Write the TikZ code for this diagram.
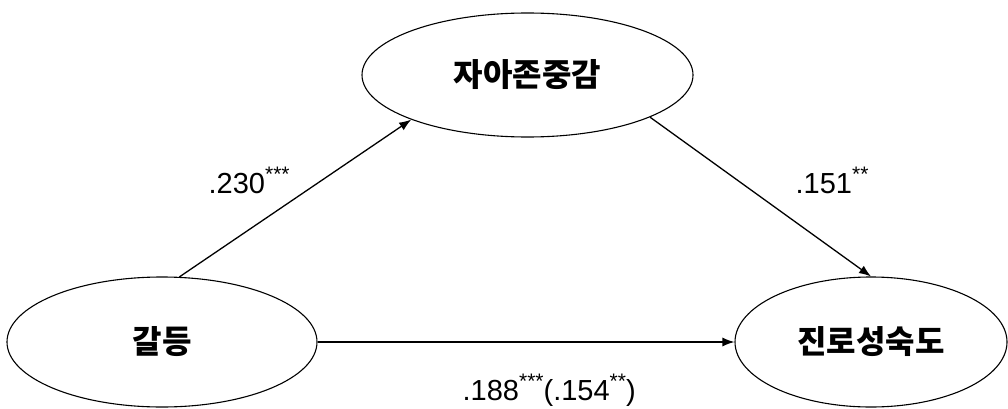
\documentclass[tikz,border=0pt]{standalone}
\usepackage{fontspec}
\setmainfont{Liberation Sans}
\newfontfamily\kr{Noto Sans CJK KR}
\usetikzlibrary{shapes.geometric,arrows.meta}
\newcommand{\sigmark}[1]{\raisebox{0.40em}{\fontsize{21}{21}\selectfont #1}}
\tikzset{
  latent/.style={draw, ellipse, line width=1.1pt, inner sep=0pt, font=\kr\bfseries\fontsize{32}{32}\selectfont},
  coef/.style={anchor=base west, inner sep=0pt, font=\fontsize{29}{29}\selectfont}
}
\begin{document}
\begin{tikzpicture}[x=1pt, y=1pt, >={Latex[length=12pt,width=9pt]}, line width=1.3pt]
\useasboundingbox (0,0) rectangle (1008,408);
\node[latent, minimum width=331pt, minimum height=124pt] (self) at (527.5,333) {자아존중감};
\node[latent, minimum width=310pt, minimum height=130pt] (conflict) at (162,66) {갈등};
\node[latent, minimum width=272pt, minimum height=130pt] (career) at (871,66) {진로성숙도};
\node[coef] (b230) at (208,215) {.230\sigmark{***}};
\node[coef] (b151) at (795,215) {.151\sigmark{**}};
\node[coef] (b188) at (462,8) {.188\sigmark{***}(.154\sigmark{**})};
\draw[->] (conflict.75) -- (self.201);
\draw[->] (self.341) -- (career.north);
\draw[->] (conflict.east) -- (career.west);
\end{tikzpicture}
\end{document}
